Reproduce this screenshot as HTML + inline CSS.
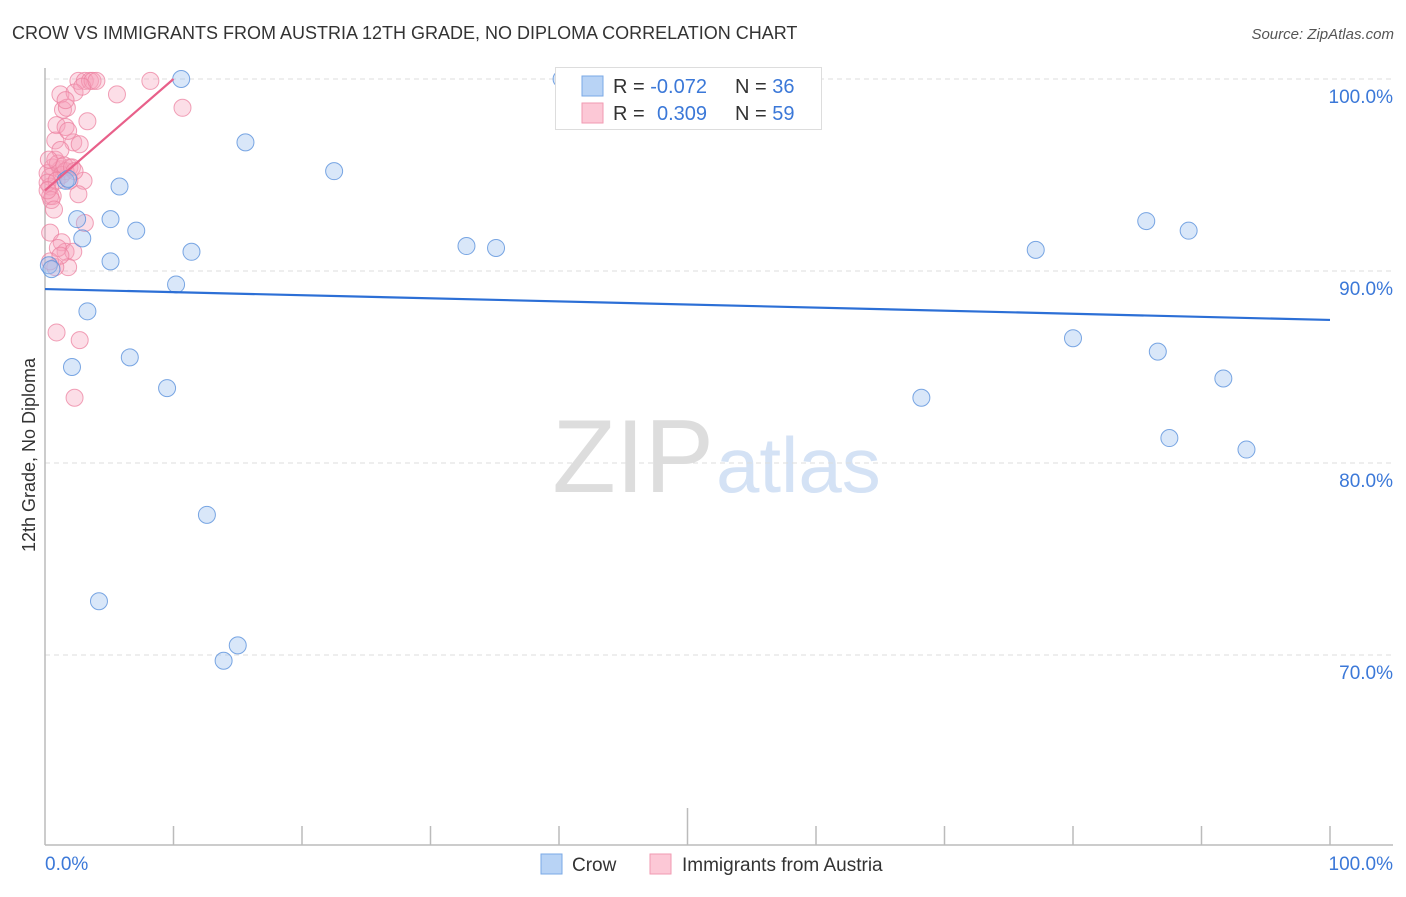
<!DOCTYPE html>
<html><head><meta charset="utf-8"><style>
body{margin:0;background:#fff;font-family:"Liberation Sans",sans-serif;}
svg text{font-family:"Liberation Sans",sans-serif;}
</style></head><body>
<svg id="chart" width="1406" height="892" xmlns="http://www.w3.org/2000/svg">
<text x="12" y="39" font-size="18" fill="#333">CROW VS IMMIGRANTS FROM AUSTRIA 12TH GRADE, NO DIPLOMA CORRELATION CHART</text>
<text x="1394" y="39" font-size="15" fill="#555" font-style="italic" text-anchor="end">Source: ZipAtlas.com</text>
<text x="714" y="492" font-size="104" fill="#ddd" text-anchor="end" font-family="Liberation Serif">ZIP</text>
<text x="716" y="492" font-size="78" fill="#d4e2f5">atlas</text>
<text transform="translate(35,455) rotate(-90)" font-size="18" fill="#333" text-anchor="middle">12th Grade, No Diploma</text>
<g id="grid"></g><g id="marks"></g>
<g>
<rect x="555.5" y="67.5" width="266" height="62" fill="#fff" stroke="#ddd"/>
<rect x="582" y="76" width="21" height="20" fill="#b8d3f5" stroke="#7aa8e6"/>
<rect x="582" y="103" width="21" height="20" fill="#fcc8d6" stroke="#f19ab2"/>
<text x="613" y="93" font-size="20" fill="#333">R = <tspan fill="#3b78d8">-0.072</tspan></text>
<text x="735" y="93" font-size="20" fill="#333">N = <tspan fill="#3b78d8">36</tspan></text>
<text x="613" y="120" font-size="20" fill="#333">R = <tspan fill="#3b78d8" x="657">0.309</tspan></text>
<text x="735" y="120" font-size="20" fill="#333">N = <tspan fill="#3b78d8">59</tspan></text>
</g>
<g>
<rect x="541" y="854" width="21" height="20" fill="#b8d3f5" stroke="#7aa8e6"/>
<text x="572" y="871" font-size="19" fill="#333">Crow</text>
<rect x="650" y="854" width="21" height="20" fill="#fcc8d6" stroke="#f19ab2"/>
<text x="682" y="871" font-size="19" fill="#333">Immigrants from Austria</text>
</g>
</svg>
<script>
const yTicks=[100,90,80,70];
const xTickLabels=["0.0%","100.0%"];
const crowX=[10.6,40.2,56.4,15.6,22.5,5.8,1.6,5.1,2.5,7.1,2.9,11.4,32.8,35.1,5.1,0.3,0.5,10.2,3.3,2.1,6.6,9.5,12.6,4.2,15.0,13.9,77.1,85.7,89.0,80.0,86.6,91.7,68.2,87.5,93.5,1.8];
const crowY=[100,100,100,96.7,95.2,94.4,94.7,92.7,92.7,92.1,91.7,91.0,91.3,91.2,90.5,90.3,90.1,89.3,87.9,85.0,85.5,83.9,77.3,72.8,70.5,69.7,91.1,92.6,92.1,86.5,85.8,84.4,83.4,81.3,80.7,94.8];
const ausX=[2.6,3.1,3.5,3.7,8.2,5.6,10.7,1.2,2.3,1.4,1.7,3.3,0.9,1.6,0.8,2.2,2.7,0.6,1.2,1.9,0.4,3.0,0.4,0.4,2.6,3.1,0.4,1.3,1.6,2.2,1.8,0.8,0.9,2.7,2.3,0.2,0.8,0.6,1.0,1.3,1.6,0.2,0.9,1.2,1.8,0.5,0.2,1.5,2.1,1.0,0.4,1.2,2.3,1.9,2.9,4.0,0.7,1.6,0.3];
const ausY=[99.9,99.9,99.9,99.9,99.9,99.2,98.5,99.2,99.3,98.4,98.5,97.8,97.6,97.5,96.8,96.7,96.6,95.4,95.3,95.4,94.9,94.7,94.4,93.9,94.0,92.5,92.0,91.5,91.0,91.0,90.2,90.2,86.8,86.4,83.4,95.1,95.8,93.9,95.6,95.0,95.2,94.6,94.7,96.3,97.3,93.7,94.2,95.5,95.4,91.2,90.5,90.8,95.2,94.7,99.6,99.9,93.2,98.9,95.8];
const crowTrend=[89.06,87.45];
const ausTrend=[94.2,100];
const ausTrendX=[0,10];
const X0=45,X1=1330,Y100=79,PPP=19.2;
const sx=v=>X0+(X1-X0)*v/100;
const sy=v=>Y100+(100-v)*PPP;
const NS="http://www.w3.org/2000/svg";
function mk(t,a,p){const e=document.createElementNS(NS,t);for(const k in a)e.setAttribute(k,a[k]);p.appendChild(e);return e;}
const grid=document.getElementById('grid'),marks=document.getElementById('marks');
yTicks.forEach(t=>{
 const l=mk('line',{x1:45,x2:1393,y1:sy(t),y2:sy(t),stroke:'#ddd','stroke-dasharray':'5,4'},grid);
 
 
 const tx=mk('text',{x:1393,y:sy(t)+24,'font-size':19,fill:'#3b78d8','text-anchor':'end'},grid);
 tx.textContent=t.toFixed(1)+'%';
 
 
});
const ya=mk('line',{x1:45,x2:45,y1:68,y2:845,stroke:'#bbb','stroke-width':1.5},grid);


const xa=mk('line',{x1:45,x2:1393,y1:845,y2:845,stroke:'#bbb','stroke-width':1.5},grid);


for(let i=1;i<=10;i++){
 const t=mk('line',{x1:sx(i*10),x2:sx(i*10),y1:i==5?808:826,y2:845,stroke:'#bbb','stroke-width':1.5},grid);
 
 
}
[[0,'start',45],[100,'end',1393]].forEach((d,i)=>{
 const t=mk('text',{x:d[2],y:870,'font-size':19,fill:'#3b78d8','text-anchor':d[1]},grid);
 t.textContent=xTickLabels[i];
 
 
});
ausX.forEach((x,i)=>{
 const c=mk('circle',{cx:sx(x),cy:sy(ausY[i]),r:8.5,fill:'rgba(245,160,185,0.35)',stroke:'rgba(236,130,160,0.75)'},marks);
 
 
});
crowX.forEach((x,i)=>{
 const c=mk('circle',{cx:sx(x),cy:sy(crowY[i]),r:8.5,fill:'rgba(160,195,240,0.4)',stroke:'rgba(90,145,220,0.8)'},marks);
 
 
});
const tb=mk('line',{x1:sx(0),y1:sy(crowTrend[0]),x2:sx(100),y2:sy(crowTrend[1]),stroke:'#2c6fd6','stroke-width':2.2},marks);


const tp=mk('line',{x1:sx(ausTrendX[0]),y1:sy(ausTrend[0]),x2:sx(ausTrendX[1]),y2:sy(ausTrend[1]),stroke:'#e8608a','stroke-width':2.2},marks);


</script>
</body></html>
